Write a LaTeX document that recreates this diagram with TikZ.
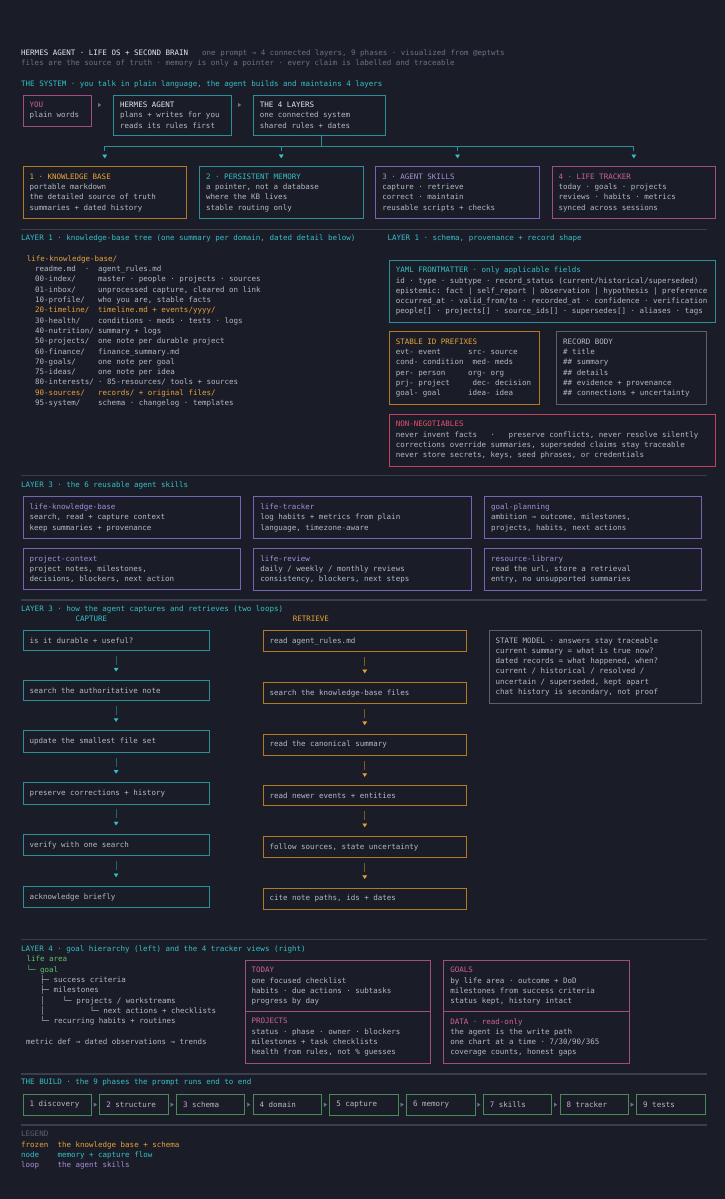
\documentclass[tikz,border=0pt]{standalone}
\usepackage{fontspec}
\setmainfont{DejaVu Sans Mono}
\usetikzlibrary{arrows.meta, positioning}

\definecolor{bg}{HTML}{1A1D27}
\definecolor{rulegray}{HTML}{3A3F4C}
\definecolor{tealtxt}{HTML}{35C0C8}
\definecolor{tealline}{HTML}{2A8F98}
\definecolor{tealdim}{HTML}{1E6670}
\definecolor{orangetxt}{HTML}{EAA23A}
\definecolor{orangeline}{HTML}{B37A22}
\definecolor{orangedim}{HTML}{7A5A22}
\definecolor{purpletxt}{HTML}{A58EE0}
\definecolor{purpleline}{HTML}{7864B4}
\definecolor{pinktxt}{HTML}{D0619C}
\definecolor{pinkline}{HTML}{A04E80}
\definecolor{redtxt}{HTML}{E5506E}
\definecolor{redline}{HTML}{C2415C}
\definecolor{greentxt}{HTML}{5EC46E}
\definecolor{greenline}{HTML}{4A8A58}
\definecolor{whitetxt}{HTML}{E4E7EE}
\definecolor{bodytxt}{HTML}{B4B9C4}
\definecolor{dimtxt}{HTML}{6B7282}
\definecolor{grayline}{HTML}{5A606E}

\begin{document}
\begin{tikzpicture}[x=1pt, y=-1pt, font=\fontsize{7.5}{10.3}\selectfont, every node/.style={inner sep=0pt}]
  % Define styles
  \tikzstyle{txt} = [anchor=west, text height=5.4pt, text depth=1.6pt, text=bodytxt]
  \tikzstyle{sechead} = [txt, text=tealtxt]
  \tikzstyle{divider} = [draw=rulegray, line width=1.5pt]
  \tikzstyle{panel} = [draw, line width=1pt, fill=bg, anchor=north west, inner xsep=6.5pt, inner ysep=7pt, outer sep=0pt, text=bodytxt, execute at begin node={\spaceskip=\fontdimen2\font\xspaceskip=\fontdimen2\font\relax}]
  \tikzstyle{youbox} = [panel, draw=pinkline, text width=55.5pt]
  \tikzstyle{agentbox} = [panel, draw=tealline, text width=105pt]
  \tikzstyle{layersbox} = [panel, draw=tealline, text width=118.6pt]
  \tikzstyle{layerbox} = [panel, text width=150.5pt]
  \tikzstyle{schemabox} = [panel, text width=312.7pt]
  \tikzstyle{halfbox} = [panel, text width=137pt]
  \tikzstyle{skillbox} = [panel, draw=purpleline, text width=204.3pt]
  \tikzstyle{capbox} = [panel, draw=tealline, text width=173pt]
  \tikzstyle{retbox} = [panel, draw=orangeline, text width=190.5pt]
  \tikzstyle{statebox} = [panel, draw=grayline, text width=199.8pt]
  \tikzstyle{viewbox} = [panel, draw=pinkline, text width=172.4pt]
  \tikzstyle{phasebox} = [panel, draw=greenline, text width=55.4pt]
  \tikzstyle{goarrow} = [dash pattern=on 0pt off 60pt, -{Triangle[length=3pt, width=4pt, color=dimtxt, line width=0.1pt]}]
  \tikzstyle{busline} = [draw=tealline, line width=1pt]
  \tikzstyle{busdrop} = [busline, dash pattern=on 4.5pt off 30pt, shorten >=8.5pt, -{Triangle[length=3.5pt, width=4.5pt, color=tealtxt, line width=0.1pt]}]
  \tikzstyle{capflow} = [draw=tealdim, line width=1.2pt, dash pattern=on 9pt off 30pt, shorten <=5.4pt, shorten >=9.2pt, -{Triangle[length=3.5pt, width=4.5pt, color=tealtxt, line width=0.1pt]}]
  \tikzstyle{retflow} = [capflow, draw=orangedim, -{Triangle[length=3.5pt, width=4.5pt, color=orangetxt, line width=0.1pt]}]

  \fill[bg] (0,0) rectangle (725,1199);
  \useasboundingbox (0,0) rectangle (725,1199);

  % Header
  \node[txt, text=whitetxt] (title) at (21,53.3) {HERMES AGENT · LIFE OS + SECOND BRAIN};
  \node[txt, text=dimtxt] (subtitle) at (202,53.3) {one prompt → 4 connected layers, 9 phases · visualized from @eptwts};
  \node[txt, text=dimtxt] (tagline) at (21,64) {files are the source of truth · memory is only a pointer · every claim is labelled and traceable};

  % The system
  \node[sechead] (syshead) at (21,84.3) {THE SYSTEM · you talk in plain language, the agent builds and maintains 4 layers};
  \node[youbox] (you) at (23,95) {\textcolor{pinktxt}{YOU}\\plain words};
  \node[agentbox] (hermes) at (113.7,95) {\textcolor{whitetxt}{HERMES AGENT}\\plans + writes for you\\reads its rules first};
  \node[layersbox] (layers) at (253.4,95) {\textcolor{whitetxt}{THE 4 LAYERS}\\one connected system\\shared rules + dates};
  \node[layerbox, draw=orangeline] (kb) at (23,166.7) {\textcolor{orangetxt}{1 · KNOWLEDGE BASE}\\portable markdown\\the detailed source of truth\\summaries + dated history};
  \node[layerbox, draw=tealline, right=13pt of kb] (memory) {\textcolor{tealtxt}{2 · PERSISTENT MEMORY}\\a pointer, not a database\\where the KB lives\\stable routing only};
  \node[layerbox, draw=purpleline, right=12.8pt of memory] (skills) {\textcolor{purpletxt}{3 · AGENT SKILLS}\\capture · retrieve\\correct · maintain\\reusable scripts + checks};
  \node[layerbox, draw=pinkline, right=12.8pt of skills] (tracker) {\textcolor{pinktxt}{4 · LIFE TRACKER}\\today · goals · projects\\reviews · habits · metrics\\synced across sessions};

  \draw[goarrow, shorten >=12.7pt] ([yshift=-10pt]you.north east) -- ([yshift=-10pt]hermes.north west);
  \draw[goarrow, shorten >=12.4pt] ([yshift=-10pt]hermes.north east) -- ([yshift=-10pt]layers.north west);
  \coordinate (bus) at (321.8,146);
  \draw[busline] (layers.south -| bus) -- (bus);
  \draw[busline] (kb.north |- bus) -- (tracker.north |- bus);
  \foreach \n in {kb,memory,skills,tracker}
    \draw[busdrop] (\n.north |- bus) -- (\n.north);

  % Layer 1: tree
  \draw[divider] (21,229.3) -- (707,229.3);
  \node[sechead] (treehead) at (21,238.7) {LAYER 1 · knowledge-base tree (one summary per domain, dated detail below)};
  \node[txt, text=orangetxt] (kbroot) at (26.7,259.3) {life-knowledge-base/};
  \foreach \nm/\ds/\cl [count=\i from 0] in {
      {readme.md~~·}/{agent\_rules.md}/bodytxt,
      {00-index/}/{master · people · projects · sources}/bodytxt,
      {01-inbox/}/{unprocessed capture, cleared on link}/bodytxt,
      {10-profile/}/{who you are, stable facts}/bodytxt,
      {20-timeline/}/{timeline.md + events/yyyy/}/orangetxt,
      {30-health/}/{conditions · meds · tests · logs}/bodytxt,
      {40-nutrition/}/{summary + logs}/bodytxt,
      {50-projects/}/{one note per durable project}/bodytxt,
      {60-finance/}/{finance\_summary.md}/bodytxt,
      {70-goals/}/{one note per goal}/bodytxt,
      {75-ideas/}/{one note per idea}/bodytxt,
      {80-interests/}/{· 85-resources/ tools + sources}/bodytxt,
      {90-sources/}/{records/ + original files/}/orangetxt,
      {95-system/}/{schema · changelog · templates}/bodytxt}{
    \node[txt, text=\cl] (kbname\i) at (35,269.7+10.3*\i) {\nm};
    \node[txt, text=\cl] (kbdesc\i) at (98,269.7+10.3*\i) {\ds};
  }

  % Layer 1: schema
  \node[sechead] (schemahead) at (387.3,238.7) {LAYER 1 · schema, provenance + record shape};
  \node[schemabox, draw=tealline] (yaml) at (389.3,260) {\textcolor{tealtxt}{YAML FRONTMATTER · only applicable fields}\\id · type · subtype · record\_status (current/historical/superseded)\\epistemic: fact | self\_report | observation | hypothesis | preference\\occurred\_at · valid\_from/to · recorded\_at · confidence · verification\\people[] · projects[] · source\_ids[] · supersedes[] · aliases · tags};
  \node[halfbox, draw=orangeline] (idprefix) at (389.3,331.7) {\textcolor{orangetxt}{STABLE ID PREFIXES}\\evt- event~~~~~~src- source\\cond- condition~~med- meds\\per- person~~~~~org- org\\prj- project~~~~~dec- decision\\goal- goal~~~~~~idea- idea};
  \node[halfbox, draw=grayline] (recbody) at (556.7,331.7) {RECORD BODY\\\# title\\\#\# summary\\\#\# details\\\#\# evidence + provenance\\\#\# connections + uncertainty};
  \node[schemabox, draw=redline] (rules) at (389.3,414.3) {\textcolor{redtxt}{NON-NEGOTIABLES}\\never invent facts~~~·~~~preserve conflicts, never resolve silently\\corrections override summaries, superseded claims stay traceable\\never store secrets, keys, seed phrases, or credentials};

  % Layer 3: skills
  \draw[divider] (21,475.5) -- (707,475.5);
  \node[sechead] (skillhead) at (21,486) {LAYER 3 · the 6 reusable agent skills};
  \node[skillbox] (skkb) at (23.1,496.7) {\textcolor{purpletxt}{life-knowledge-base}\\search, read + capture context\\keep summaries + provenance};
  \node[skillbox, right=13.4pt of skkb] (sktrack) {\textcolor{purpletxt}{life-tracker}\\log habits + metrics from plain\\language, timezone-aware};
  \node[skillbox, right=13.4pt of sktrack] (skgoal) {\textcolor{purpletxt}{goal-planning}\\ambition → outcome, milestones,\\projects, habits, next actions};
  \node[skillbox, below=10pt of skkb] (skproj) {\textcolor{purpletxt}{project-context}\\project notes, milestones,\\decisions, blockers, next action};
  \node[skillbox, right=13.4pt of skproj] (skreview) {\textcolor{purpletxt}{life-review}\\daily / weekly / monthly reviews\\consistency, blockers, next steps};
  \node[skillbox, right=13.4pt of skreview] (skres) {\textcolor{purpletxt}{resource-library}\\read the url, store a retrieval\\entry, no unsupported summaries};

  % Layer 3: two loops
  \draw[divider] (21,600) -- (707,600);
  \node[sechead] (loophead) at (21,609.7) {LAYER 3 · how the agent captures and retrieves (two loops)};
  \node[txt, text=tealtxt] (caphead) at (75.4,620) {CAPTURE};
  \node[txt, text=orangetxt] (rethead) at (292.6,620) {RETRIEVE};
  \node[capbox] (cap1) at (23.1,630.3) {is it durable + useful?};
  \node[capbox, below=30.5pt of cap1] (cap2) {search the authoritative note};
  \node[capbox, below=30.5pt of cap2] (cap3) {update the smallest file set};
  \node[capbox, below=30.5pt of cap3] (cap4) {preserve corrections + history};
  \node[capbox, below=30.5pt of cap4] (cap5) {verify with one search};
  \node[capbox, below=30.5pt of cap5] (cap6) {acknowledge briefly};
  \node[retbox] (ret1) at (263,630.3) {read agent\_rules.md};
  \node[retbox, below=30.5pt of ret1] (ret2) {search the knowledge-base files};
  \node[retbox, below=30.5pt of ret2] (ret3) {read the canonical summary};
  \node[retbox, below=30.5pt of ret3] (ret4) {read newer events + entities};
  \node[retbox, below=30.5pt of ret4] (ret5) {follow sources, state uncertainty};
  \node[retbox, below=30.5pt of ret5] (ret6) {cite note paths, ids + dates};
  \foreach \a/\b in {1/2,2/3,3/4,4/5,5/6} {
    \draw[capflow] (cap\a) -- (cap\b);
    \draw[retflow] (ret\a) -- (ret\b);
  }
  \node[statebox] (state) at (489,630.3) {STATE MODEL · answers stay traceable\\current summary = what is true now?\\dated records = what happened, when?\\current / historical / resolved /\\uncertain / superseded, kept apart\\chat history is secondary, not proof};

  % Layer 4: goals and tracker views
  \draw[divider] (21,939.7) -- (707,939.7);
  \node[sechead] (goalhead) at (21,949.7) {LAYER 4 · goal hierarchy (left) and the 4 tracker views (right)};
  \foreach \ln/\cl [count=\i from 0] in {
      {life area}/greentxt,
      {└─ goal}/greentxt,
      {~~~├─ success criteria}/bodytxt,
      {~~~├─ milestones}/bodytxt,
      {~~~│~~~~└─ projects / workstreams}/bodytxt,
      {~~~│~~~~~~~~~~└─ next actions + checklists}/bodytxt,
      {~~~└─ recurring habits + routines}/bodytxt}
    \node[txt, text=\cl] (goaltree\i) at (26.4,960+10.3*\i) {\ln};
  \node[txt] (metric) at (25.9,1042.3) {metric def → dated observations → trends};
  \node[viewbox] (today) at (245,960.3) {\textcolor{pinktxt}{TODAY}\\one focused checklist\\habits · due actions · subtasks\\progress by day};
  \node[viewbox] (goals) at (443.8,960.3) {\textcolor{pinktxt}{GOALS}\\by life area · outcome + DoD\\milestones from success criteria\\status kept, history intact};
  \node[viewbox] (projects) at (245,1011.3) {\textcolor{pinktxt}{PROJECTS}\\status · phase · owner · blockers\\milestones + task checklists\\health from rules, not \% guesses};
  \node[viewbox] (data) at (443.8,1011.3) {\textcolor{pinktxt}{DATA · read-only}\\the agent is the write path\\one chart at a time · 7/30/90/365\\coverage counts, honest gaps};

  % The build
  \draw[divider] (21,1074) -- (707,1074);
  \node[sechead] (buildhead) at (21,1083) {THE BUILD · the 9 phases the prompt runs end to end};
  \node[phasebox] (ph1) at (23.1,1094) {1 discovery};
  \foreach \i/\p [remember=\i as \j (initially 1)] in {2/structure,3/schema,4/domain,5/capture,6/memory,7/skills,8/tracker,9/tests} {
    \node[phasebox, right=8.3pt of ph\j] (ph\i) {\i\ \p};
    \draw[goarrow, shorten >=3pt] (ph\j) -- (ph\i);
  }

  % Legend
  \draw[divider] (21,1125) -- (707,1125);
  \node[txt, text=grayline] (legend) at (21,1135) {LEGEND};
  \node[txt, text=orangetxt] (frozen) at (21,1145.3) {frozen};
  \node[txt, text=orangetxt] (frozendesc) at (57.3,1145.3) {the knowledge base + schema};
  \node[txt, text=tealtxt] (nodekey) at (21,1155.7) {node};
  \node[txt, text=tealtxt] (nodedesc) at (57.3,1155.7) {memory + capture flow};
  \node[txt, text=purpletxt] (loopkey) at (21,1166) {loop};
  \node[txt, text=purpletxt] (loopdesc) at (57.3,1166) {the agent skills};
\end{tikzpicture}
\end{document}
